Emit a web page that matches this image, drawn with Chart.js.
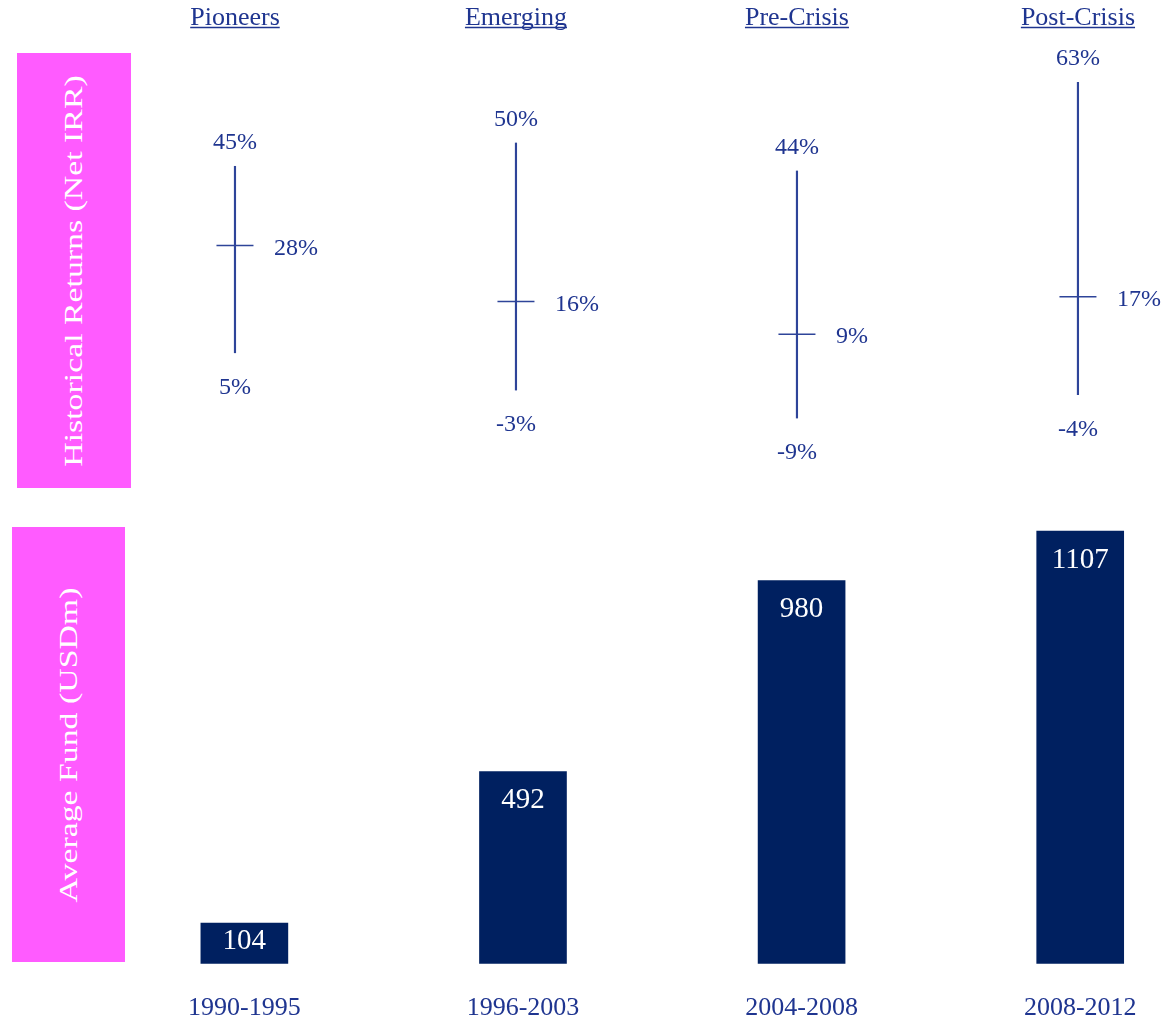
<!DOCTYPE html>
<html>
<head>
<meta charset="utf-8">
<script src="https://cdn.jsdelivr.net/npm/chart.js@4.4.1/dist/chart.umd.min.js"></script>
<style>
  html, body { margin: 0; padding: 0; background: #fff; overflow: hidden; }
  body { width: 1166px; height: 1018px; position: relative; font-family: "Liberation Serif", "Times New Roman", serif; }
  .panel { position: absolute; left: 0; width: 1166px; }
  .box { position: absolute; background: #ff5bff; }
  .box span {
    position: absolute; left: 50%; top: 50%; white-space: nowrap;
    color: #fff; font-size: 26px; line-height: 1;
    transform: translate(-50%, -50%) rotate(-90deg) scaleX(1.3);
  }
</style>
</head>
<body>
<div class="box" style="left:17px; top:53px; width:114px; height:435px;"><span>Historical Returns (Net IRR)</span></div>
<div class="box" style="left:12px; top:527px; width:113px; height:435px;"><span>Average Fund (USDm)</span></div>
<div class="panel" style="top:0; height:500px;"><canvas id="irrChart"></canvas></div>
<div class="panel" style="top:500px; height:553px;"><canvas id="fundChart"></canvas></div>
<script>
// Data
const periods = ['Pioneers', 'Emerging', 'Pre-Crisis', 'Post-Crisis'];
const years = ['1990-1995', '1996-2003', '2004-2008', '2008-2012'];
const irrHigh = [45, 50, 44, 63];
const irrMedian = [28, 16, 9, 17];
const irrLow = [5, -3, -9, -4];
const avgFund = [104, 492, 980, 1107];

const serif = '"Liberation Serif", "Times New Roman", serif';
const navy = '#1f3590';
const lineBlue = '#2e4499';
const barNavy = '#002060';

// Draws the % labels and the underlined period headers
const irrLabels = {
    id: 'irrLabels',
    afterDatasetsDraw(chart) {
        const ctx = chart.ctx;
        const xs = chart.scales.x, ys = chart.scales.y;
        ctx.save();
        ctx.fillStyle = navy;
        ctx.strokeStyle = navy;
        ctx.textBaseline = 'alphabetic';
        periods.forEach((p, i) => {
            const px = xs.getPixelForValue(i);
            ctx.font = '24px ' + serif;
            ctx.textAlign = 'center';
            ctx.fillText(irrHigh[i] + '%', px, ys.getPixelForValue(irrHigh[i]) - 25 + 8);
            ctx.fillText(irrLow[i] + '%', px, ys.getPixelForValue(irrLow[i]) + 33 + 8);
            ctx.textAlign = 'left';
            ctx.fillText(irrMedian[i] + '%', px + 39, ys.getPixelForValue(irrMedian[i]) + 1 + 8);

            // header
            ctx.font = '26px ' + serif;
            ctx.textAlign = 'center';
            ctx.fillText(p, px, 25);
            const w = ctx.measureText(p).width;
            ctx.lineWidth = 1.3;
            ctx.beginPath();
            ctx.moveTo(px - w / 2, 27.5);
            ctx.lineTo(px + w / 2, 27.5);
            ctx.stroke();
        });
        ctx.restore();
    }
};

new Chart(document.getElementById('irrChart'), {
    type: 'bar',
    data: {
        datasets: [{
            // high-low range as a thin floating bar
            data: periods.map((p, i) => ({ x: i, y: [irrLow[i], irrHigh[i]] })),
            backgroundColor: lineBlue,
            barThickness: 1.5,
        }, {
            type: 'line',
            data: periods.map((p, i) => ({ x: i, y: irrMedian[i] })),
            showLine: false,
            pointStyle: 'line',
            pointRadius: 18.5,
            pointBorderColor: lineBlue,
            pointBorderWidth: 1.5,
        }]
    },
    options: {
        responsive: true,
        maintainAspectRatio: false,
        animation: false,
        layout: { autoPadding: false, padding: { top: 53, bottom: 12, left: 140, right: 6 } },
        scales: {
            x: { type: 'linear', offset: false, min: -0.338, max: 3.292, display: false },
            y: { min: -24, max: 69.3, display: false }
        },
        plugins: { legend: { display: false }, tooltip: { enabled: false } },
        events: []
    },
    plugins: [irrLabels]
});

// White value labels inside the bars
const fundLabels = {
    id: 'fundLabels',
    afterDatasetsDraw(chart) {
        const ctx = chart.ctx;
        ctx.save();
        ctx.fillStyle = '#fff';
        ctx.font = '29px ' + serif;
        ctx.textAlign = 'center';
        ctx.textBaseline = 'alphabetic';
        chart.getDatasetMeta(0).data.forEach((el, i) => {
            const cy = el.y + Math.min(27, (el.base - el.y) / 2 - 4);
            ctx.fillText(String(avgFund[i]), el.x, cy + 9.8);
        });
        ctx.restore();
    }
};

new Chart(document.getElementById('fundChart'), {
    type: 'bar',
    data: {
        datasets: [{
            data: years.map((yr, i) => ({ x: i, y: avgFund[i] })),
            backgroundColor: barNavy,
            barThickness: 87,
        }]
    },
    options: {
        responsive: true,
        maintainAspectRatio: false,
        animation: false,
        layout: { autoPadding: false, padding: { top: 10, bottom: 0, left: 140, right: 6 } },
        scales: {
            x: {
                type: 'linear', offset: false, min: -0.3746, max: 3.2814,
                grid: { display: false, drawTicks: false },
                border: { display: false },
                afterBuildTicks: s => { s.ticks = years.map((yr, i) => ({ value: i })); },
                ticks: {
                    padding: 29,
                    color: navy,
                    font: { family: serif, size: 26 },
                    callback: v => years[v]
                }
            },
            y: { min: 0, max: 1160.8, display: false }
        },
        plugins: { legend: { display: false }, tooltip: { enabled: false } },
        events: []
    },
    plugins: [fundLabels]
});
</script>
</body>
</html>
